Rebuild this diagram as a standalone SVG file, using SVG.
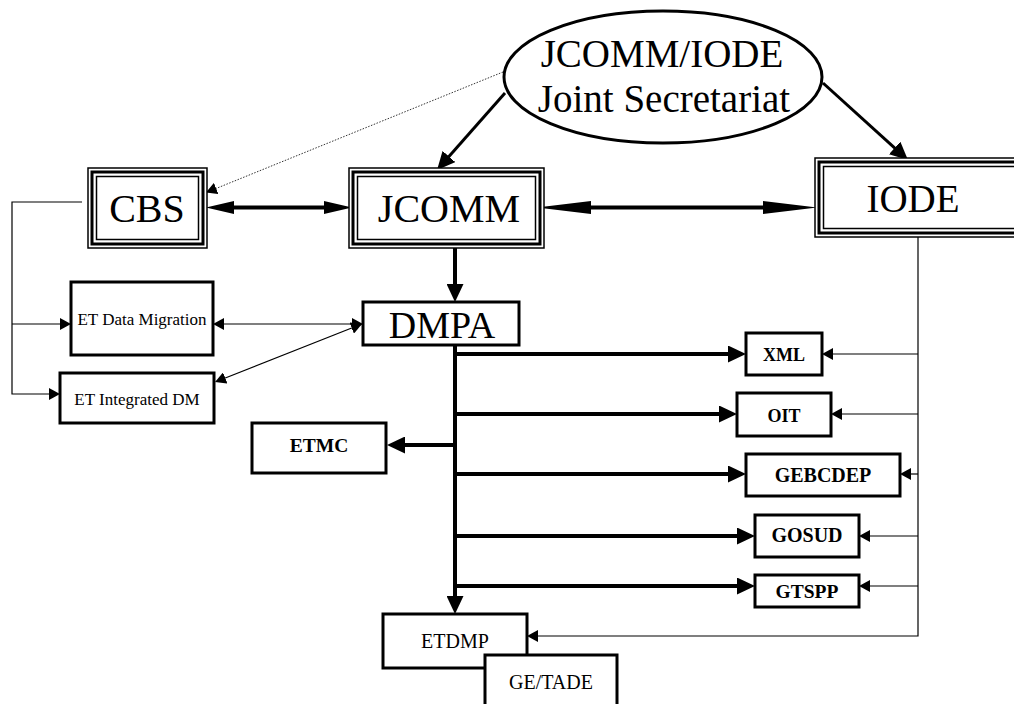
<svg xmlns="http://www.w3.org/2000/svg" width="1014" height="704" viewBox="0 0 1014 704">
<style>
  .bx{fill:#fff;stroke:#000;stroke-width:3}
  .t1{fill:none;stroke:#000;stroke-width:1.5}
  .t3{fill:none;stroke:#000;stroke-width:3}
  .tw{fill:#fff;stroke:none}
  .big{font-family:"Liberation Serif","Times New Roman",serif;text-anchor:middle;fill:#000}
  .bold{font-family:"Liberation Serif","Times New Roman",serif;text-anchor:middle;font-weight:bold;fill:#000}
  .thick{fill:none;stroke:#000;stroke-width:4}
  .med{fill:none;stroke:#000;stroke-width:3}
  .thin{fill:none;stroke:#000;stroke-width:1.2}
  .dot{fill:none;stroke:#333;stroke-width:1;stroke-dasharray:1.5 1.5}
</style>
<defs>
  <marker id="mBig" markerUnits="userSpaceOnUse" markerWidth="18" markerHeight="17" viewBox="0 0 18 17" refX="4" refY="8.5" orient="auto-start-reverse"><path d="M0,0 L18,8.5 L0,17 z" fill="#000"/></marker>
  <marker id="mSlimS" markerUnits="userSpaceOnUse" markerWidth="28" markerHeight="13" viewBox="0 0 28 13" refX="4" refY="6.5" orient="auto-start-reverse"><path d="M0,0 L28,6.5 L0,13 z" fill="#000"/></marker>
  <marker id="mSlimL" markerUnits="userSpaceOnUse" markerWidth="54" markerHeight="13" viewBox="0 0 54 13" refX="4" refY="6.5" orient="auto-start-reverse"><path d="M0,0 L54,6.5 L0,13 z" fill="#000"/></marker>
  <marker id="mSmall" markerUnits="userSpaceOnUse" markerWidth="11" markerHeight="12" viewBox="0 0 11 12" refX="2" refY="6" orient="auto-start-reverse"><path d="M0,0 L11,6 L0,12 z" fill="#000"/></marker>
</defs>

<g id="connectors">
  <!-- from secretariat -->
  <path class="dot" d="M503,72 L214.3,189.2" marker-end="url(#mSmall)"/>
  <path class="med" d="M505,93 L446.3,159.5" marker-end="url(#mBig)"/>
  <path class="med" d="M823,83 L897.6,150.6" marker-end="url(#mBig)"/>
  <!-- CBS-JCOMM-IODE -->
  <path class="thick" d="M230,207.5 H328" marker-start="url(#mSlimS)" marker-end="url(#mSlimS)"/>
  <path class="thick" d="M587,207.5 H767" marker-start="url(#mSlimL)" marker-end="url(#mSlimL)"/>
  <!-- JCOMM to DMPA -->
  <path class="thick" d="M455,248 V288" marker-end="url(#mBig)"/>
  <!-- CBS bracket -->
  <path class="thin" d="M82,202 H12 V394 H51" marker-end="url(#mSmall)"/>
  <path class="thin" d="M12,324 H62" marker-end="url(#mSmall)"/>
  <!-- ETs to DMPA -->
  <path class="thin" d="M222,324 H354" marker-start="url(#mSmall)" marker-end="url(#mSmall)"/>
  <path class="thin" d="M223.4,378.7 L353.6,327.3" marker-start="url(#mSmall)" marker-end="url(#mSmall)"/>
  <!-- DMPA trunk -->
  <path class="thick" d="M455,345 V600" marker-end="url(#mBig)"/>
  <path class="thick" d="M455,354 H732" marker-end="url(#mBig)"/>
  <path class="thick" d="M455,414 H723" marker-end="url(#mBig)"/>
  <path class="thick" d="M455,445 H401" marker-end="url(#mBig)"/>
  <path class="thick" d="M455,474 H732" marker-end="url(#mBig)"/>
  <path class="thick" d="M455,536 H741" marker-end="url(#mBig)"/>
  <path class="thick" d="M455,586 H741" marker-end="url(#mBig)"/>
  <!-- IODE bracket -->
  <path class="thin" d="M918,237 V636 H536" marker-end="url(#mSmall)"/>
  <path class="thin" d="M918,354 H831" marker-end="url(#mSmall)"/>
  <path class="thin" d="M918,414 H840" marker-end="url(#mSmall)"/>
  <path class="thin" d="M918,474 H909" marker-end="url(#mSmall)"/>
  <path class="thin" d="M918,536 H868" marker-end="url(#mSmall)"/>
  <path class="thin" d="M918,586 H868" marker-end="url(#mSmall)"/>
</g>

<g id="secretariat">
  <ellipse cx="663" cy="77" rx="159" ry="66" fill="#fff" stroke="#000" stroke-width="3"/>
  <text class="big" x="662" y="67" font-size="39">JCOMM/IODE</text>
  <text class="big" x="664" y="112" font-size="39">Joint Secretariat</text>
</g>

<g id="cbs">
  <rect class="tw" x="88" y="168" width="119" height="80"/>
  <rect class="t1" x="88" y="168" width="119" height="80"/>
  <rect class="t3" x="92" y="172" width="111" height="72"/>
  <rect class="t1" x="96.5" y="176.5" width="102" height="63"/>
  <text class="big" x="147" y="222" font-size="40">CBS</text>
</g>

<g id="jcomm">
  <rect class="tw" x="349" y="168" width="195" height="80"/>
  <rect class="t1" x="349" y="168" width="195" height="80"/>
  <rect class="t3" x="353" y="172" width="187" height="72"/>
  <rect class="t1" x="357.5" y="176.5" width="178" height="63"/>
  <text class="big" x="449" y="222" font-size="40">JCOMM</text>
</g>

<g id="iode">
  <rect class="tw" x="815" y="158" width="210" height="79"/>
  <rect class="t1" x="815" y="158" width="210" height="79"/>
  <rect class="t3" x="819" y="162" width="202" height="71"/>
  <rect class="t1" x="823.5" y="166.5" width="193" height="62"/>
  <text class="big" x="913" y="212" font-size="39">IODE</text>
</g>

<g id="dmpa">
  <rect class="bx" x="363" y="302" width="156" height="43"/>
  <text class="big" x="442" y="338" font-size="38">DMPA</text>
</g>

<g id="et-data-migration">
  <rect class="bx" x="71" y="282" width="142" height="73"/>
  <text class="big" x="142" y="325" font-size="17">ET Data Migration</text>
</g>

<g id="et-integrated-dm">
  <rect class="bx" x="60" y="373" width="154" height="50"/>
  <text class="big" x="137" y="405" font-size="17">ET Integrated DM</text>
</g>

<g id="etmc">
  <rect class="bx" x="252" y="423" width="134" height="50"/>
  <text class="bold" x="319" y="452" font-size="19.5">ETMC</text>
</g>

<g id="xml">
  <rect class="bx" x="746" y="333" width="76" height="42"/>
  <text class="bold" x="784" y="361" font-size="18">XML</text>
</g>

<g id="oit">
  <rect class="bx" x="737" y="393" width="94" height="43"/>
  <text class="bold" x="784" y="422" font-size="18">OIT</text>
</g>

<g id="gebcdep">
  <rect class="bx" x="746" y="454" width="154" height="42"/>
  <text class="bold" x="823" y="482" font-size="20">GEBCDEP</text>
</g>

<g id="gosud">
  <rect class="bx" x="755" y="515" width="104" height="42"/>
  <text class="bold" x="807" y="542" font-size="20">GOSUD</text>
</g>

<g id="gtspp">
  <rect class="bx" x="755" y="575" width="104" height="32"/>
  <text class="bold" x="807" y="598" font-size="19.5">GTSPP</text>
</g>

<g id="etdmp">
  <rect class="bx" x="383" y="614" width="144" height="54"/>
  <text class="big" x="455" y="648" font-size="20">ETDMP</text>
</g>

<g id="ge-tade">
  <rect class="bx" x="485" y="655" width="132" height="60"/>
  <text class="big" x="551" y="689" font-size="20">GE/TADE</text>
</g>
</svg>
